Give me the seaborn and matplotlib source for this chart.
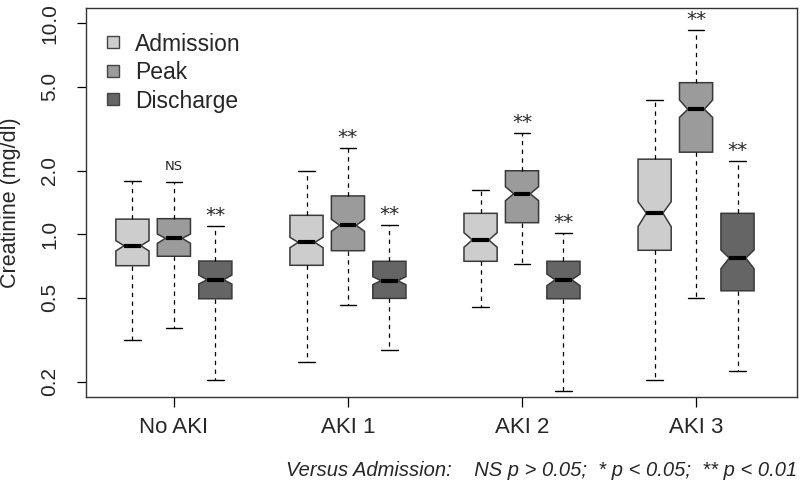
import numpy as np
import matplotlib
matplotlib.use("Agg")
import matplotlib.pyplot as plt
from matplotlib.lines import Line2D
import seaborn as sns

groups = ["No AKI", "AKI 1", "AKI 2", "AKI 3"]
series = ["Admission", "Peak", "Discharge"]

# box summaries (mg/dl), one value per group
admission_lo = [0.315, 0.248, 0.452, 0.204]
admission_q1 = [0.71, 0.713, 0.745, 0.84]
admission_med = [0.883, 0.916, 0.94, 1.26]
admission_q3 = [1.18, 1.23, 1.257, 2.27]
admission_hi = [1.78, 2.0, 1.63, 4.34]
admission_ci_lo = [0.834, 0.864, 0.868, 1.087]
admission_ci_hi = [0.933, 0.968, 1.018, 1.427]

peak_lo = [0.361, 0.464, 0.723, 0.497]
peak_q1 = [0.787, 0.836, 1.135, 2.45]
peak_med = [0.957, 1.103, 1.557, 3.91]
peak_q3 = [1.186, 1.52, 2.0, 5.23]
peak_hi = [1.77, 2.56, 3.03, 9.33]
peak_ci_lo = [0.906, 1.033, 1.443, 3.58]
peak_ci_hi = [1.003, 1.178, 1.68, 4.33]

discharge_lo = [0.203, 0.283, 0.181, 0.225]
discharge_q1 = [0.495, 0.497, 0.495, 0.54]
discharge_med = [0.609, 0.603, 0.609, 0.772]
discharge_q3 = [0.747, 0.745, 0.745, 1.257]
discharge_hi = [1.095, 1.106, 1.018, 2.23]
discharge_ci_lo = [0.581, 0.577, 0.571, 0.687]
discharge_ci_hi = [0.641, 0.63, 0.648, 0.843]

# significance versus admission
peak_sig = ["NS", "**", "**", "**"]
discharge_sig = ["**", "**", "**", "**"]

ytick_values = [0.2, 0.5, 1.0, 2.0, 5.0, 10.0]
ytick_labels = ["0.2", "0.5", "1.0", "2.0", "5.0", "10.0"]
footnote = "Versus Admission:    NS p > 0.05;  * p < 0.05;  ** p < 0.01"


def make_stats(lo, q1, med, q3, hi, cilo, cihi):
    stats = []
    for i in range(len(lo)):
        stats.append(dict(whislo=lo[i], q1=q1[i], med=med[i], q3=q3[i], whishi=hi[i],
                          cilo=cilo[i], cihi=cihi[i], fliers=[]))
    return stats


sns.set_theme(style="white")
plt.rcParams["font.family"] = ["Liberation Sans", "DejaVu Sans"]

palette = sns.color_palette(["#cdcdcd", "#9b9b9b", "#656565"])
all_stats = [
    make_stats(admission_lo, admission_q1, admission_med, admission_q3, admission_hi,
               admission_ci_lo, admission_ci_hi),
    make_stats(peak_lo, peak_q1, peak_med, peak_q3, peak_hi, peak_ci_lo, peak_ci_hi),
    make_stats(discharge_lo, discharge_q1, discharge_med, discharge_q3, discharge_hi,
               discharge_ci_lo, discharge_ci_hi),
]

fig = plt.figure(figsize=(8.04, 4.98), dpi=100)
ax = fig.add_axes([0.107, 0.2034, 0.884, 0.7805])

group_pos = np.arange(len(groups)) * 4.2
offsets = [-1, 0, 1]

for k, name in enumerate(series):
    pos = group_pos + offsets[k]
    ax.bxp(all_stats[k], positions=pos, widths=0.8, patch_artist=True, shownotches=True,
           showfliers=False, manage_ticks=False,
           boxprops=dict(facecolor=palette[k], edgecolor="#3a3a3a", linewidth=1.1),
           medianprops=dict(color="black", linewidth=3, solid_capstyle="butt"),
           whiskerprops=dict(color="black", linestyle=(0, (3.5, 3.5)), linewidth=0.9),
           capprops=dict(color="black", linewidth=1.0))

# significance marks above the upper whiskers
for k, sigs, his in [(1, peak_sig, peak_hi), (2, discharge_sig, discharge_hi)]:
    for i, s in enumerate(sigs):
        x = group_pos[i] + offsets[k]
        if s == "NS":
            ax.annotate(s, (x, his[i]), xytext=(0, 8.9), textcoords="offset points",
                        ha="center", va="baseline", fontsize=9.5, family="DejaVu Sans")
        else:
            ax.annotate(s, (x, his[i]), xytext=(0, 3.5), textcoords="offset points",
                        ha="center", va="baseline", fontsize=14.5, family="DejaVu Sans")

ax.set_yscale("log")
ax.set_ylim(0.17, 11.81)
ax.set_xlim(-2.12, group_pos[-1] + 2.43)
ax.set_yticks(ytick_values)
ax.set_yticklabels(ytick_labels, rotation=90, va="center", fontsize=15)
ax.yaxis.set_minor_locator(matplotlib.ticker.NullLocator())
ax.set_xticks(group_pos)
ax.set_xticklabels(groups, fontsize=16)
ax.tick_params(axis="y", direction="out", length=6.5, width=0.9, color="black", pad=13, left=True)
ax.tick_params(axis="x", direction="out", length=7, width=0.9, color="black", pad=7.5, bottom=True)
for sp in ax.spines.values():
    sp.set_color("#333333")
    sp.set_linewidth(1.0)

ax.set_ylabel("Creatinine (mg/dl)", fontsize=15.5)
ax.yaxis.set_label_coords(-0.0915, 0.5)

handles = [Line2D([], [], linestyle="none", marker="s", markersize=8,
                  markerfacecolor=palette[k], markeredgecolor="#444444", markeredgewidth=1.0)
           for k in range(len(series))]
ax.legend(handles, series, loc="upper left", bbox_to_anchor=(0.022, 0.937), frameon=False,
          fontsize=16.5, handlelength=1.0, handletextpad=0.45, labelspacing=0.24,
          borderpad=0, borderaxespad=0)

fig.text(0.992, 1 - 476 / 498, footnote, ha="right", va="baseline", fontsize=14.5,
         style="italic")

fig.savefig("out.png", dpi=100)
